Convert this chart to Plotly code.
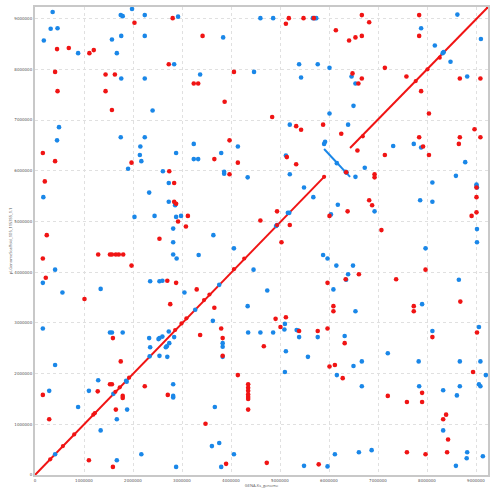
import plotly.graph_objects as go

# --- data (positions in Mb) ---
x_len_mb = 9.245
y_len_mb = 9.23

# collinear alignment segments (start x, start y, end x, end y)
fwd_seg1 = [0.0, 0.0, 5.90, 5.88]
inv_seg = [5.90, 6.43, 6.43, 5.88]
fwd_seg2 = [6.43, 6.45, 9.245, 9.23]

diag_dots_x = [0.31, 0.57, 0.80, 1.19, 1.22, 1.64, 1.73, 1.92, 2.86, 2.99, 3.09, 3.45, 3.56,
               4.06, 4.27, 4.94, 5.90, 6.69, 7.77, 8.01, 8.26, 9.245]
diag_dots_y = [0.31, 0.57, 0.80, 1.19, 1.22, 1.64, 1.73, 1.92, 2.86, 2.99, 3.09, 3.45, 3.56,
               4.06, 4.27, 4.93, 5.88, 6.68, 7.77, 8.00, 8.23, 9.23]

blue_x = [0.36, 1.98, 1.75, 1.79, 2.24, 2.92, 0.32, 0.46, 0.18, 1.57, 1.76, 2.24, 3.84, 0.88,
          1.67, 2.84, 1.76, 2.24, 3.37, 2.40, 0.49, 0.45, 1.75, 2.24, 2.15, 2.14, 2.17, 1.90,
          2.88, 3.24, 3.24, 3.33, 3.80, 4.14, 2.61, 2.73, 3.86, 3.86, 4.34, 0.17, 2.33, 2.73,
          2.86, 2.86, 2.03, 2.44, 2.88, 2.98, 2.82, 2.82, 3.64, 4.06,
          4.60, 4.86, 5.67, 5.71, 5.74, 7.88, 8.62, 9.10, 8.16, 8.48, 8.34, 8.32, 5.39, 5.77,
          6.01, 4.47, 5.43, 6.46, 6.54, 8.82, 6.50, 6.01, 5.20, 6.39, 7.31, 7.73, 7.88, 5.12,
          5.20, 6.73, 6.54, 8.78, 8.59, 8.11, 9.01, 9.01, 9.02, 5.49, 5.68, 7.86, 8.11, 6.18,
          6.93, 5.16, 5.19, 6.04, 4.92, 4.94, 9.02, 9.02, 7.97, 5.92, 5.90, 6.16, 6.34, 6.36,
          2.82, 2.89, 3.34, 0.41, 0.16, 0.56, 1.34, 2.35, 2.54, 2.60, 3.05, 3.76, 4.34, 3.27,
          3.63, 0.16, 1.53, 1.57, 1.79, 4.35, 2.33, 2.52, 2.54, 2.60, 2.73, 2.84, 2.74, 2.67,
          2.69, 3.83, 3.83, 2.35, 2.34, 2.54, 2.70, 3.83, 0.41, 1.29, 1.86, 1.87, 2.82, 2.82,
          2.82, 1.60, 0.29, 1.10, 0.88, 1.88, 3.67, 1.67, 1.34, 0.41, 2.17, 3.61, 3.76, 4.06,
          1.67, 2.88, 3.80,
          5.88, 5.97, 6.15, 6.49, 6.39, 4.46, 8.65, 6.35, 4.74, 6.09, 6.54, 7.90, 5.10, 5.09,
          4.60, 4.86, 5.34, 5.37, 5.39, 5.77, 6.32, 8.11, 9.06, 5.12, 5.57, 7.20, 7.83, 8.67,
          9.09, 6.67, 6.50, 5.10, 6.16, 9.20, 9.06, 9.09, 6.67, 7.84, 8.33, 8.67, 8.61, 8.33,
          6.12, 6.61, 6.87, 8.82, 8.81, 9.14, 8.59, 5.49, 5.97]
blue_y = [9.13, 9.19, 9.07, 9.05, 9.07, 9.04, 8.80, 8.81, 8.57, 8.59, 8.66, 8.66, 8.63, 8.32,
          8.32, 8.10, 7.82, 7.82, 7.90, 7.19, 6.86, 6.60, 6.66, 6.66, 6.48, 6.31, 6.19, 6.04,
          6.35, 6.53, 6.23, 6.23, 6.35, 6.48, 5.99, 5.76, 5.98, 5.94, 5.87, 5.48, 5.57, 5.39,
          5.35, 5.32, 5.09, 5.11, 5.09, 5.11, 4.86, 4.59, 4.73, 4.47,
          9.01, 9.01, 9.01, 9.01, 9.01, 8.81, 9.08, 8.60, 8.47, 8.15, 8.34, 8.32, 8.10, 8.10,
          8.03, 7.95, 7.84, 7.86, 7.72, 7.86, 7.28, 7.13, 6.91, 6.91, 6.49, 6.53, 6.46, 6.30,
          5.93, 6.06, 5.88, 6.17, 5.90, 5.77, 5.73, 5.70, 5.67, 5.67, 5.48, 5.42, 5.39, 5.33,
          5.20, 5.17, 5.17, 5.14, 4.91, 4.93, 4.85, 4.59, 4.47, 6.57, 6.53, 6.15, 5.98, 5.96,
          4.35, 4.27, 4.34, 4.05, 3.79, 3.60, 3.67, 3.82, 3.82, 3.83, 3.60, 3.75, 3.33, 3.26,
          3.04, 2.89, 2.81, 2.81, 2.81, 2.81, 2.70, 2.68, 2.70, 2.73, 2.83, 2.72, 2.60, 2.52,
          2.54, 2.60, 2.53, 2.52, 2.34, 2.35, 2.33, 2.33, 2.17, 1.87, 1.86, 1.84, 1.79, 1.56,
          1.53, 1.60, 1.66, 1.66, 1.34, 1.29, 1.34, 1.10, 0.88, 0.41, 0.41, 0.57, 0.63, 0.41,
          0.29, 0.16, 0.16,
          4.34, 4.27, 4.13, 4.13, 3.96, 4.05, 3.85, 3.85, 3.64, 3.66, 3.23, 3.37, 2.98, 2.87,
          2.81, 2.81, 2.86, 2.85, 2.72, 2.72, 2.74, 2.84, 2.92, 2.44, 2.33, 2.40, 2.24, 2.24,
          2.24, 2.24, 2.15, 2.03, 1.97, 1.97, 1.79, 1.75, 1.75, 1.75, 1.67, 1.75, 1.57, 0.88,
          0.41, 0.45, 0.49, 0.45, 0.33, 0.37, 0.18, 0.18, 0.17]

red_x = [2.81, 2.03, 3.42, 0.45, 0.69, 1.11, 1.20, 2.73, 0.41, 1.44, 1.63, 3.24, 3.33, 4.06,
         0.46, 1.44, 1.57, 3.87, 0.16, 0.41, 1.97, 3.66, 3.97, 4.14, 2.74, 0.20, 2.84, 2.84,
         2.88, 3.97, 3.12, 2.92, 3.08, 2.54, 0.24,
         5.18, 5.48, 5.69, 5.12, 6.67, 7.84, 6.82, 6.14, 6.41, 6.54, 6.67, 7.84, 7.14, 6.48,
         6.67, 6.60, 7.58, 7.88, 8.67, 9.09, 4.84, 8.04, 5.33, 5.43, 5.88, 6.25, 7.84, 7.92,
         8.67, 8.97, 9.09, 8.65, 6.58, 7.14, 5.14, 5.33, 8.04, 6.93, 6.93, 9.01, 9.01, 6.82,
         6.88, 6.38, 9.01, 8.91, 4.94, 4.60, 6.01, 5.20, 7.07, 5.03, 6.35,
         0.16, 0.22, 1.29, 1.53, 1.57, 1.65, 1.71, 1.80, 1.97, 2.70, 2.88, 3.30, 1.01, 2.76,
         3.66, 3.37, 1.59, 3.80, 3.83, 3.83, 1.75, 4.14, 1.53, 1.57, 2.24, 1.28, 0.16, 1.79,
         1.79, 2.71, 1.65, 0.29, 3.48, 4.35, 4.35, 4.35, 4.35, 4.35, 4.35, 4.35, 1.10, 1.59,
         3.90,
         7.97, 6.61, 6.34, 7.37, 5.97, 8.68, 6.09, 6.09, 7.73, 7.73, 4.91, 5.12, 5.01, 5.39,
         5.77, 5.97, 6.32, 8.11, 9.02, 4.67, 6.01, 6.12, 6.28, 8.94, 7.90, 7.20, 7.59, 7.90,
         8.39, 8.33, 8.43, 7.59, 7.97, 8.41, 4.73, 5.79]
red_y = [9.01, 8.92, 8.66, 8.40, 8.42, 8.32, 8.38, 8.10, 7.95, 7.90, 7.90, 7.72, 7.72, 7.95,
         7.57, 7.57, 7.20, 7.36, 6.35, 6.19, 6.16, 6.23, 6.60, 6.16, 5.99, 5.79, 5.76, 5.39,
         5.35, 5.93, 5.11, 5.00, 4.90, 4.66, 4.73,
         9.01, 9.01, 9.01, 8.90, 9.07, 9.07, 8.93, 8.77, 8.57, 8.63, 8.66, 8.66, 8.03, 7.92,
         7.82, 7.72, 7.86, 7.57, 7.82, 7.82, 7.06, 7.13, 6.88, 6.81, 6.91, 6.73, 6.66, 6.48,
         6.66, 6.82, 6.66, 6.53, 6.40, 6.31, 6.27, 6.13, 6.31, 5.93, 5.87, 5.67, 5.48, 5.42,
         5.32, 5.20, 5.18, 5.11, 5.20, 5.02, 5.11, 4.93, 4.83, 4.59, 5.97,
         4.27, 3.89, 4.35, 4.35, 4.35, 4.35, 4.35, 4.35, 4.13, 3.83, 3.79, 3.66, 3.47, 3.37,
         3.30, 2.76, 2.70, 2.89, 2.70, 2.35, 2.24, 1.97, 1.79, 1.79, 1.75, 1.65, 1.58, 1.56,
         1.52, 1.58, 1.29, 1.10, 1.01, 1.79, 1.72, 1.66, 1.59, 1.54, 1.50, 1.29, 0.29, 0.16,
         0.22,
         4.05, 3.96, 3.86, 3.86, 3.79, 3.42, 3.33, 3.23, 3.33, 3.23, 3.08, 3.11, 2.92, 2.84,
         2.84, 2.89, 2.60, 2.72, 2.81, 2.54, 2.14, 2.17, 1.91, 2.03, 1.62, 1.56, 1.44, 1.44,
         1.19, 1.10, 0.70, 0.45, 0.41, 0.45, 0.24, 0.21]

tick_vals = [0, 1000000, 2000000, 3000000, 4000000, 5000000, 6000000, 7000000, 8000000, 9000000]
tick_text = ["0", "1000000", "2000000", "3000000", "4000000", "5000000", "6000000",
             "7000000", "8000000", "9000000"]

x_title = "GENA-Ks_genome"
y_title = "pLGenomeScaffold_105_1153SS_1.1"

RED = "#f01414"
BLUE = "#1a87e8"
MB = 1e6

def mb(v):
    return [a * MB for a in v]

fig = go.Figure()

for seg, col in [(fwd_seg1, RED), (inv_seg, BLUE), (fwd_seg2, RED)]:
    fig.add_trace(go.Scatter(x=mb([seg[0], seg[2]]), y=mb([seg[1], seg[3]]), mode="lines",
                             line=dict(color=col, width=2), hoverinfo="skip", showlegend=False))

fig.add_trace(go.Scatter(x=mb(blue_x), y=mb(blue_y), mode="markers",
                         marker=dict(color=BLUE, size=4.6, line=dict(width=0)), showlegend=False))
fig.add_trace(go.Scatter(x=mb(red_x), y=mb(red_y), mode="markers",
                         marker=dict(color=RED, size=4.6, line=dict(width=0)), showlegend=False))
fig.add_trace(go.Scatter(x=mb(diag_dots_x), y=mb(diag_dots_y), mode="markers",
                         marker=dict(color=RED, size=4.2, line=dict(width=0)), showlegend=False))

axis_common = dict(
    showgrid=True, gridcolor="#e0e0e0", griddash="dot", gridwidth=1,
    zeroline=False, showline=True, linecolor="#c8c8c8", linewidth=2, mirror=True,
    ticks="", tickfont=dict(size=4, color="#555555", family="DejaVu Sans"),
    tickvals=tick_vals, ticktext=tick_text, automargin=False,
)

fig.update_layout(
    width=498, height=491,
    margin=dict(l=35, r=10, t=7, b=16),
    paper_bgcolor="white", plot_bgcolor="white",
    xaxis=dict(range=[0, x_len_mb * MB], title=dict(text=x_title, font=dict(size=4, color="#555555"),
               standoff=2), **axis_common),
    yaxis=dict(range=[0, y_len_mb * MB], title=dict(text=y_title, font=dict(size=4, color="#555555"),
               standoff=2), **axis_common),
)

fig.write_html("out.html", config={"displayModeBar": False},
               post_script="document.body.style.margin='0';")
